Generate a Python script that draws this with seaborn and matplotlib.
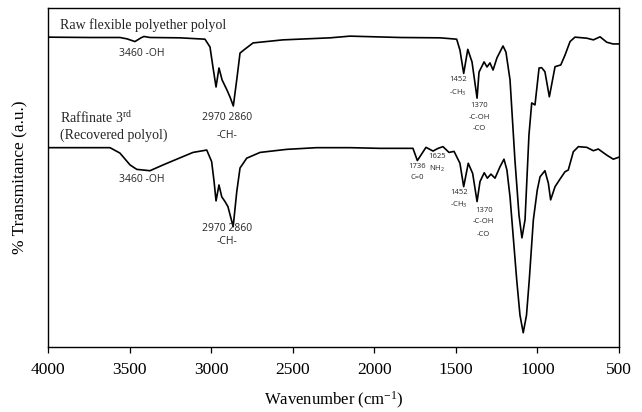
import matplotlib
matplotlib.use("Agg")
import matplotlib.pyplot as plt
import seaborn as sns
import pandas as pd

# FTIR spectra: raw flexible polyether polyol vs. recovered polyol (raffinate 3rd)
raw_wavenumber = [4000, 3743, 3559, 3516, 3467, 3430, 3412, 3375, 3191, 3038, 3007, 2989,
                  2970, 2952, 2933, 2903, 2884, 2864, 2841, 2823, 2792, 2743, 2560, 2271,
                  2149, 1842, 1597, 1495, 1475, 1452, 1427, 1401, 1370, 1358, 1327, 1309,
                  1291, 1272, 1248, 1211, 1193, 1168, 1138, 1113, 1095, 1076, 1052, 1035,
                  1015, 990, 974, 954, 927, 892, 857, 831, 800, 770, 698, 657, 616, 575,
                  537, 500]
raw_transmittance = [91.4, 91.3, 91.3, 90.9, 90.1, 91.2, 91.6, 91.3, 91.2, 90.8, 88.5, 82.6,
                     76.7, 82.3, 78.8, 75.8, 73.7, 71.1, 79.6, 86.7, 87.9, 89.7, 90.6, 91.2,
                     91.7, 91.3, 91.2, 90.8, 87.6, 80.7, 87.8, 84.1, 73.4, 81.1, 84.1, 82.6,
                     83.8, 81.7, 85.3, 88.8, 87.0, 78.8, 55.2, 38.9, 32.2, 37.5, 62.5, 72.0,
                     71.4, 82.3, 82.4, 81.2, 73.8, 82.7, 83.2, 86.1, 90.1, 91.4, 91.1, 90.6,
                     91.5, 89.9, 89.4, 89.4]

rec_wavenumber = [4000, 3620, 3559, 3497, 3456, 3375, 3295, 3191, 3111, 3027, 2997, 2982,
                  2970, 2952, 2935, 2915, 2897, 2865, 2843, 2823, 2782, 2700, 2537, 2353,
                  2149, 1965, 1763, 1736, 1683, 1640, 1609, 1579, 1542, 1511, 1475, 1452,
                  1424, 1397, 1370, 1352, 1326, 1307, 1285, 1260, 1229, 1205, 1187, 1168,
                  1127, 1107, 1087, 1067, 1050, 1025, 1001, 984, 954, 933, 919, 892, 862,
                  831, 811, 780, 749, 698, 657, 627, 575, 535, 500]
rec_transmittance = [58.8, 58.8, 57.2, 53.7, 52.4, 52.0, 53.7, 55.8, 57.4, 58.1, 54.7, 48.8,
                     43.1, 47.8, 44.3, 42.9, 41.4, 35.5, 45.8, 52.8, 55.7, 57.4, 58.3, 58.8,
                     58.8, 58.6, 58.6, 55.0, 58.9, 57.8, 58.6, 59.1, 57.4, 57.7, 54.2, 47.3,
                     54.2, 51.2, 42.9, 48.8, 51.4, 49.8, 51.0, 49.8, 53.2, 55.4, 52.2, 44.3,
                     19.8, 9.4, 4.2, 9.4, 19.8, 37.5, 46.3, 50.2, 52.0, 48.3, 43.4, 47.3, 49.5,
                     51.7, 52.2, 57.6, 59.1, 58.9, 57.9, 58.4, 56.6, 55.4, 56.0]

x_ticks = [4000, 3500, 3000, 2500, 2000, 1500, 1000, 500]

spectra = pd.concat([
    pd.DataFrame({"wavenumber": raw_wavenumber, "transmittance": raw_transmittance,
                  "sample": "raw"}),
    pd.DataFrame({"wavenumber": rec_wavenumber, "transmittance": rec_transmittance,
                  "sample": "recovered"}),
], ignore_index=True)

sns.set_theme(style="ticks")
plt.rcParams["font.family"] = ["Liberation Serif", "DejaVu Serif"]
plt.rcParams["mathtext.default"] = "regular"

fig = plt.figure(figsize=(6.42, 4.12), dpi=100)
ax = fig.add_axes([48 / 642, 1 - 347 / 412, 571 / 642, 339 / 412])

sns.lineplot(data=spectra, x="wavenumber", y="transmittance", hue="sample",
             palette=["black", "black"], estimator=None, legend=False,
             linewidth=1.2, ax=ax)

ax.set_xlim(4000, 500)
ax.set_ylim(0, 100)
ax.set_xticks(x_ticks)
ax.set_xticklabels([str(t) for t in x_ticks])
ax.set_yticks([])
ax.tick_params(axis="x", direction="out", length=4, width=0.9, pad=6.5,
               labelsize=12.5, colors="black")
for side in ["left", "right", "top", "bottom"]:
    ax.spines[side].set_visible(True)
    ax.spines[side].set_color("black")
    ax.spines[side].set_linewidth(1.0)

ax.set_xlabel("Wavenumber (cm$^{-1}$)", fontsize=12, color="black")
ax.set_ylabel("% Transmitance (a.u.)", fontsize=12.5, color="black")
ax.xaxis.set_label_coords(0.5, -0.127)
ax.yaxis.set_label_coords(-0.035, 0.5)

serif = ["Liberation Serif", "DejaVu Serif"]
sans = ["Open Sans", "DejaVu Sans"]

# sample names
ax.text(3926, 95.0, "Raw flexible polyether polyol", fontsize=10, family=serif,
        ha="left", va="center")
ax.text(3926, 67.6, "Raffinate 3$^{rd}$", fontsize=10, family=serif, ha="left", va="center")
ax.text(3926, 62.5, "(Recovered polyol)", fontsize=10, family=serif, ha="left", va="center")

# band assignments, larger labels
big_labels = [
    (3424, 86.7, "3460 -OH"), (2903, 67.8, "2970 2860"), (2903, 62.5, "-CH-"),
    (3424, 49.5, "3460 -OH"), (2903, 35.0, "2970 2860"), (2903, 31.1, "-CH-"),
]
for x, y, s in big_labels:
    ax.text(x, y, s, fontsize=7.5, family=sans, ha="center", va="center")

# band assignments, small labels
small_labels = [
    (1487, 78.8, "1452"), (1487, 74.9, "-CH$_3$"),
    (1358, 71.1, "1370"), (1358, 67.8, "-C-OH"), (1358, 64.6, "-CO"),
    (1738, 53.2, "1736"), (1738, 49.9, "C=0"),
    (1615, 56.3, "1625"), (1615, 52.5, "NH$_2$"),
    (1481, 45.5, "1452"), (1481, 41.9, "-CH$_3$"),
    (1327, 40.4, "1370"), (1333, 37.0, "-C-OH"), (1333, 33.3, "-CO"),
]
for x, y, s in small_labels:
    ax.text(x, y, s, fontsize=5.5, family=sans, ha="center", va="center")

fig.savefig("out.png", dpi=100, facecolor="white")
